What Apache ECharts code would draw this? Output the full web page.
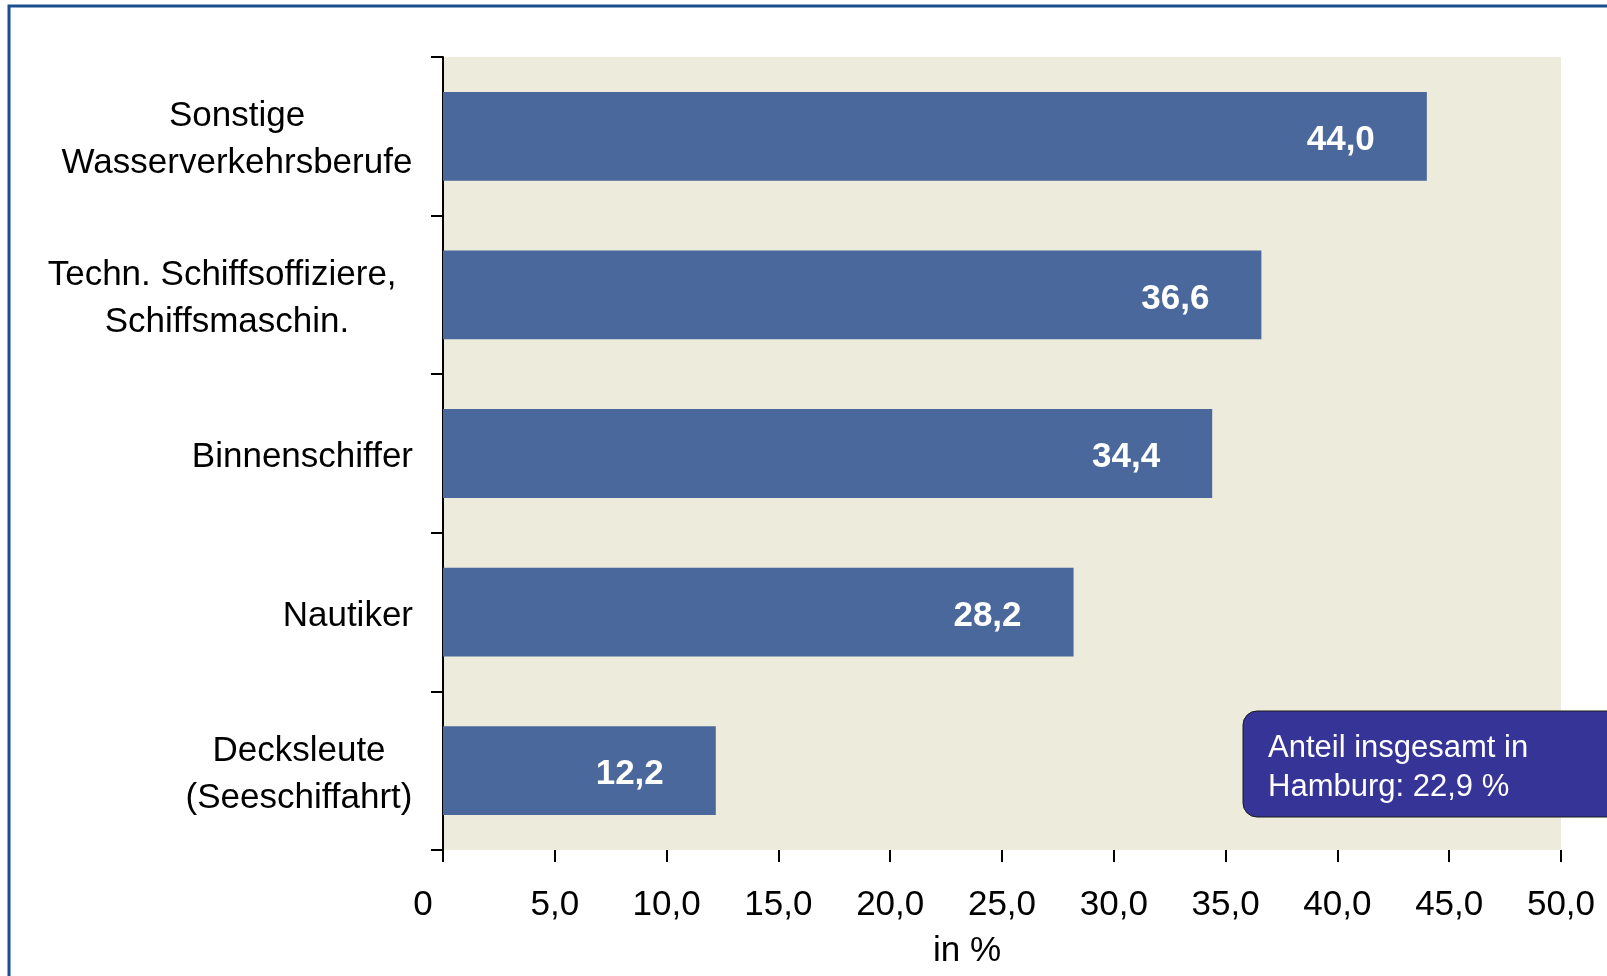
<!DOCTYPE html>
<html>
<head>
<meta charset="utf-8">
<title>Wasserverkehrsberufe</title>
<script src="https://cdn.jsdelivr.net/npm/echarts@6/dist/echarts.min.js"></script>
<style>
	html, body { margin: 0; padding: 0; background: #fff; }
	.chart { width: 1607px; height: 976px; }
</style>
</head>
<body>
<div class="chart"></div>
<script>
// data
const categories = [
	"Sonstige\nWasserverkehrsberufe",
	"Techn. Schiffsoffiziere, \nSchiffsmaschin.",
	"Binnenschiffer",
	"Nautiker",
	"Decksleute\n(Seeschiffahrt)"
];
const values = [44.0, 36.6, 34.4, 28.2, 12.2];
const axisMin = 0;
const axisMax = 50;
const axisStep = 5;
const axisName = "in %";
const noteLines = ["Anteil insgesamt in", "Hamburg: 22,9 %"];

// deutsches Zahlenformat
function fmt(v) {
	return v.toFixed(1).replace(".", ",");
}

(function () {
	let myChart = echarts.init(document.querySelector('.chart'))
	// rich-Stil je mehrzeiliger Kategorie (Zeilen zentriert)
	const blockStyle = ["w", "t", null, null, "d"];
	const labelFont = { fontFamily: "Liberation Sans", fontSize: 35, lineHeight: 47, color: "#000" };
	const option = {
		animation: false,
		grid: {
			left: 443,
			top: 57,
			right: 46,
			bottom: 126,
			show: true,
			backgroundColor: "#edebdb",
			borderWidth: 0
		},
		xAxis: {
			type: "value",
			min: axisMin,
			max: axisMax,
			interval: axisStep,
			name: axisName,
			nameLocation: "middle",
			nameGap: 84,
			nameTextStyle: {
				fontFamily: "Liberation Sans",
				fontSize: 35,
				color: "#000",
				padding: [0, 70, 0, 0]
			},
			splitLine: { show: false },
			axisLine: { lineStyle: { color: "#000", width: 2 } },
			axisTick: { show: true, length: 12, lineStyle: { color: "#000", width: 2 } },
			axisLabel: {
				margin: 38,
				fontFamily: "Liberation Sans",
				fontSize: 35,
				color: "#000",
				formatter: function (v) {
					// die "0" steht etwas links vom Strich
					return v === 0 ? "{z|0}" : fmt(v);
				},
				rich: {
					z: { fontFamily: "Liberation Sans", fontSize: 35, color: "#000", padding: [0, 40, 0, 0] }
				}
			}
		},
		yAxis: {
			type: "category",
			inverse: true,
			data: categories,
			axisLine: { lineStyle: { color: "#000", width: 2 } },
			axisTick: { show: true, length: 12, lineStyle: { color: "#000", width: 2 } },
			axisLabel: {
				margin: 30,
				padding: [8, 0, 0, 0],
				fontFamily: "Liberation Sans",
				fontSize: 35,
				lineHeight: 47,
				color: "#000",
				formatter: function (v, i) {
					const key = blockStyle[i];
					if (!key) return v;
					return v.split("\n").map(function (l) { return "{" + key + "|" + l + "}"; }).join("\n");
				},
				rich: {
					w: Object.assign({ width: 352, align: "center" }, labelFont),
					t: Object.assign({ width: 372, align: "center" }, labelFont),
					d: Object.assign({ width: 228, align: "center" }, labelFont)
				}
			}
		},
		series: [
			{
				type: "bar",
				data: values,
				barCategoryGap: "44%",
				itemStyle: { color: "#4a689c" },
				label: {
					show: true,
					position: "insideRight",
					distance: 52,
					offset: [0, 4],
					color: "#fff",
					fontFamily: "Liberation Sans",
					fontWeight: "bold",
					fontSize: 35,
					formatter: function (p) { return fmt(p.value); }
				}
			}
		],
		graphic: [
			// Rahmen
			{
				type: "rect",
				z: 0,
				shape: { x: 9, y: 6, width: 1700, height: 1100 },
				style: { fill: "none", stroke: "#1b4f8d", lineWidth: 3 }
			},
			// Hinweis-Kasten
			{
				type: "group",
				x: 1243,
				y: 711,
				z: 100,
				children: [
					{
						type: "rect",
						shape: { x: 0, y: 0, width: 420, height: 106, r: 14 },
						style: { fill: "#363497", stroke: "#1a1a1a", lineWidth: 1 }
					},
					{
						type: "text",
						x: 25,
						y: 18,
						style: {
							text: noteLines.join("\n"),
							fill: "#fff",
							fontFamily: "Liberation Sans",
							fontSize: 31,
							lineHeight: 39
						}
					}
				]
			}
		]
	}
	myChart.setOption(option)
	window.addEventListener("resize", function () {
		myChart.resize();
	})
})();
</script>
</body>
</html>
